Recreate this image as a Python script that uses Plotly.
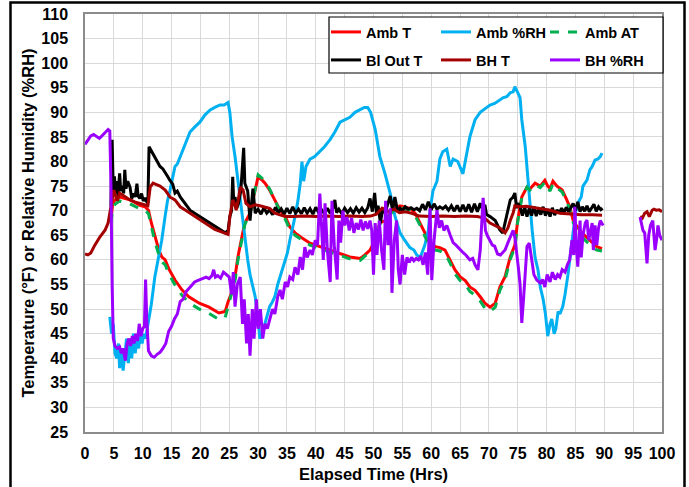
import plotly.graph_objects as go

# ---------------- data ----------------
amb_rh_x = [4.3, 4.6, 4.9, 5.2, 5.5, 5.8, 6.0, 6.3, 6.6, 6.9, 7.2, 7.5, 7.8, 8.1, 8.4, 8.7, 9.0, 9.3, 9.6, 9.9,
            10.2, 10.5, 10.8, 11.1, 11.5, 12.1, 12.7, 13.3, 13.9, 14.3, 14.7, 15.2, 15.6, 16.0, 16.5, 17.0, 17.5,
            18.2, 19.0, 19.9, 20.8, 21.7, 22.5, 23.4, 24.1, 24.8, 25.1, 25.5, 26.0, 26.5, 26.9, 27.3, 27.7, 28.2,
            28.6, 29.0, 29.5, 30.0, 30.3, 30.7, 31.2, 31.6, 32.0, 32.5, 32.9, 33.4, 33.8, 34.3, 34.7, 35.1, 35.5,
            36.0, 36.4, 36.9, 37.3, 37.6, 37.9, 38.3, 39.0, 39.8, 40.7, 41.5, 42.5, 43.3, 44.2, 45.0, 45.9, 46.8,
            47.7, 48.4, 49.0, 49.5, 50.3, 51.1, 52.0, 52.9, 53.7, 54.6, 55.4, 56.3, 57.0, 57.5, 58.1, 58.9, 59.5,
            59.8, 60.3, 61.0, 61.5, 62.0, 62.7, 63.3, 63.8, 64.6, 65.5, 66.7, 67.6, 68.5, 69.4, 70.2, 71.0, 71.9,
            72.5, 73.1, 73.7, 74.2, 74.5, 75.0, 75.4, 75.7, 76.3, 76.8, 77.1, 77.5, 78.0, 78.5, 78.9, 79.4, 79.8,
            80.2, 80.6, 80.9, 81.3, 81.6, 82.0, 82.3, 82.8, 83.2, 83.7, 84.4, 85.0, 85.4, 86.0, 86.3, 87.0, 87.5,
            87.9, 88.4, 88.9, 89.3, 89.6]
amb_rh_y = [48.4, 45, 47, 41, 40, 43, 38, 42, 37.5, 41, 44, 39, 43, 40, 45, 41, 44, 42, 46, 43,
            45, 44, 46, 48, 51, 56.5, 60, 64, 69, 72, 74, 77, 79, 79.5, 81, 82.5, 84,
            86, 87, 88, 89.5, 90.5, 91, 91.5, 91.5, 92, 90, 85, 81, 76, 72, 68, 64, 60,
            57, 55, 52.5, 48, 44, 45, 47, 49, 50.5, 51.5, 52.5, 55, 56.5, 58, 59.5, 61.5, 64,
            66.5, 68.8, 72, 75.5, 80, 76, 79, 80.5, 81, 82, 83, 84.5, 86, 88, 88.5, 89, 90,
            90.5, 91, 91, 90, 86.5, 81, 77.5, 73.5, 69, 65.5, 64, 62.5, 62, 61, 60.5, 63, 66,
            70, 74, 76, 80.5, 82, 82.5, 79, 80.5, 80, 77.5, 85, 88.5, 90, 90.8, 91.5, 91.8, 92.5,
            93, 93.2, 94, 94.2, 95.2, 94, 93, 88.5, 83, 76, 70.8, 66, 60.5, 58, 54.5, 52, 49,
            44.5, 47, 48, 45, 46, 49.5, 49, 50.5, 53, 57, 64, 69.5, 71.5, 72.8, 75, 76.2, 78.3,
            79, 80.3, 80.5, 81, 81.7, 81.2]

amb_x = [4.5, 4.8, 5.2, 5.6, 6.0, 6.5, 6.9, 7.4, 7.8, 8.5, 9.5, 10.4, 11.0, 11.5, 12.1, 12.8, 13.3, 13.9, 14.6,
         15.6, 16.8, 18.0, 19.8, 21.5, 23.2, 24.3, 24.8, 25.3, 26.0, 26.5, 27.2, 27.7, 28.6, 29.5, 30.0, 30.7,
         31.2, 32.0, 32.9, 33.8, 34.7, 35.5, 36.4, 37.3, 39.0, 40.7, 42.5, 44.2, 45.9, 47.7, 48.5, 49.4, 50.3,
         51.1, 52.0, 52.9, 53.7, 54.6, 56.3, 57.2, 58.1, 58.9, 59.8, 60.7, 61.5, 62.4, 63.3, 64.1, 65.0, 65.9,
         66.7, 67.6, 68.5, 69.3, 70.2, 71.1, 71.9, 72.8, 73.7, 74.5, 75.0, 75.7, 76.6, 77.1, 78.0, 78.9, 79.7,
         80.2, 80.6, 81.1, 81.8, 82.7, 83.5, 84.0, 84.6, 85.3, 86.1, 87.0, 87.9, 88.7, 89.6]
amb_t_y = [68.5, 71.5, 72.2, 72.5, 72.8, 72.6, 72.5, 72.3, 72.2, 71.8, 71.1, 70.8, 70.1, 67.5, 64.7, 62, 60.6, 60,
           58, 55.9, 53.9, 52.5, 51.2, 50.4, 49.2, 49.5, 51.5, 53, 56.6, 60.6, 64.7, 67.5, 69.5, 74.2, 76.9,
           76.2, 75.6, 74.2, 72.2, 70.1, 68.8, 66.7, 65.5, 64.7, 63.4, 62.7, 62, 61.4, 60.6, 60.3, 61, 62, 64,
           67.5, 68, 69.5, 70.5, 71, 70.5, 69.5, 67.5, 65.5, 63.4, 62.7, 62.5, 62, 60, 58, 56.6, 55.8, 54.5,
           53.8, 52.5, 51.2, 50.4, 51.2, 54.5, 56.6, 60.6, 63, 68.1, 72.8, 74.8, 74.4, 75.6, 75, 76.2, 75,
           74.5, 76, 75, 74.2, 72.2, 70.8, 68.1, 66.7, 65.5, 64.5, 63.4, 62.7, 62.3]
amb_at_y = [67.5, 70.5, 71.3, 71.6, 72, 71.8, 71.6, 71.5, 71.4, 71, 70.4, 70.1, 69.4, 66.8, 63.8, 61, 59.6, 59,
            57, 54.9, 52.8, 51.3, 50, 49.1, 47.9, 48.3, 50.5, 52.2, 55.8, 59.9, 64.2, 67.2, 69.4, 74.2, 77.3,
            76.6, 75.8, 74.4, 72.2, 69.8, 68.3, 66.2, 65, 64.3, 63, 62.3, 61.6, 61, 60.2, 59.9, 60.7, 61.7, 63.7,
            67.3, 67.8, 69.3, 70.2, 70.6, 70.1, 69, 67, 64.8, 62.8, 62, 61.8, 61.3, 59.3, 57.2, 55.8, 55, 53.6,
            52.8, 51.6, 50.2, 49.5, 50.4, 53.8, 56, 60.1, 62.6, 67.8, 72.6, 74.8, 74.2, 75.3, 74.7, 75.8, 74.6,
            74, 75.5, 74.6, 73.8, 71.8, 70.3, 67.6, 66, 64.7, 63.7, 62.6, 62, 61.8]

bi_out_x = [4.5, 4.7, 4.9, 5.1, 5.3, 5.5, 5.7, 6.0, 6.2, 6.5, 6.7, 6.9, 7.1, 7.4, 7.8, 8.1, 8.4, 8.7, 9.0, 9.2,
            9.5, 9.8, 10.1, 10.4, 10.7, 10.9, 11.1, 11.6, 12.1, 13.0, 13.5, 13.9, 14.3, 14.7, 15.2, 15.6, 16.0,
            16.5, 17.3, 18.2, 19.0, 19.9, 20.8, 21.7, 22.5, 23.4, 24.3, 24.8, 25.1, 25.4, 25.6, 25.8, 26.0, 26.3,
            26.6, 27.0, 27.3, 27.5, 27.7, 28.0, 28.2, 28.6, 29.1, 29.5,
            30.0, 30.5, 31.0, 31.5, 32.0, 32.5, 33.0, 33.5, 34.0, 34.5, 35.0, 35.5, 36.0, 36.5, 37.0, 37.5,
            38.0, 38.5, 39.0, 39.5, 40.0, 40.5, 41.0, 41.5, 42.0, 42.5, 43.0, 43.3, 43.6, 44.0, 44.5, 45.0,
            45.5, 46.0, 46.5, 47.0, 47.5, 48.0, 48.5, 49.0, 49.4, 49.8, 50.2, 50.5, 50.8, 51.2, 51.6, 52.0,
            52.4, 52.9, 53.3, 53.7, 54.2, 54.6, 55.0, 55.5, 56.0, 56.5, 57.0, 57.5, 58.0, 58.5, 59.0, 59.5,
            60.0, 60.5, 61.0, 61.5, 62.0, 62.5, 63.0, 63.5, 64.0, 64.5, 65.0, 65.5, 66.0, 66.5, 67.0, 67.5,
            68.0, 68.5, 69.0, 69.3, 69.6, 70.2, 71.1, 71.9, 72.4, 73.1, 73.7, 74.2, 74.5, 74.8, 75.0, 75.4,
            75.8, 76.2, 76.6, 77.0, 77.4, 77.8, 78.2, 78.6, 79.0, 79.4, 79.8, 80.2, 80.6, 81.0, 81.4, 81.8,
            82.2, 82.6, 83.0, 83.4, 83.8, 84.2, 84.6, 85.0, 85.4, 85.8, 86.2, 86.6, 87.0, 87.4, 87.8, 88.2,
            88.6, 89.0, 89.4, 89.7]
bi_out_y = [71, 84.4, 74, 77, 73.5, 76, 73, 77.6, 74, 75, 73.5, 78.3, 74.5, 76, 74.8, 72.5, 73.5, 72.8, 75.5, 73,
            72.5, 73.5, 72, 72.6, 71.8, 71.5, 83, 82, 81, 79, 78.5, 77.6, 77, 76.2, 75.4, 73.6, 74,
            72.8, 71.5, 70.1, 69.5, 68.8, 68.2, 67.5, 66.8, 66.1, 65.5, 66, 68.8, 70, 76.9, 71, 72.8, 70.5,
            71.5, 74, 80, 82.8, 75.6, 74.5, 74, 68, 74.5, 69.5,
            70.3, 69.3, 70.6, 69.5, 70.2, 69.2, 70.7, 69.6, 70.4, 69.3, 70.5, 69.4, 70.8, 69.5, 70.3, 69.4,
            70.6, 69.5, 70.4, 69.3, 70.7, 69.6, 70.2, 69.4, 70.5, 69.5, 70.6, 72.2, 69.6, 70.3, 69.4, 70.5,
            69.6, 70.4, 69.5, 70.6, 69.7, 70.5, 69.6, 70.6, 72.5, 69.8, 73.6, 69.5, 71, 67.5, 70.5, 69.5,
            71, 73, 70, 72.8, 69.8, 70.5, 70, 70.8, 70.3, 70.6, 70.2, 70.5, 70, 71.3, 70.2, 71.8,
            70.2, 71.4, 70.3, 70.8, 70.4, 70.9, 70.1, 71, 69.9, 71.1, 69.8, 71.2, 69.8, 71.3, 69.7, 71.4,
            69.8, 71.5, 69.9, 71.2, 69.2, 68.8, 68, 66.1, 65.5, 68.8, 72.2, 72.8, 73.6, 70.5, 71.5, 70.8,
            69, 70.8, 68.8, 70.5, 69, 70.9, 68.9, 70.4, 69.2, 70.8, 69, 70.3, 68.8, 70.6, 69.1, 70.2,
            69.5, 70.5, 69.6, 70.7, 69.8, 70.6, 71.5, 70, 71.8, 69.8, 70.8, 69.9, 71, 69.8, 70.5, 71.3,
            69.9, 70.8, 70.2, 70.5]

bh_t_x = [0, 0.5, 1.0, 1.7, 2.6, 3.5, 4.0, 4.3, 4.7, 5.0, 5.3, 5.6, 6.0, 6.5, 6.9, 7.8, 8.6, 9.5, 10.4, 10.9,
          11.3, 11.8, 12.4, 13.0, 13.9, 14.7, 15.6, 16.5, 17.3, 18.2, 19.0, 19.9, 20.8, 21.7, 22.5, 23.4, 24.3,
          24.8, 25.1, 25.4, 25.6, 25.9, 26.2, 26.6, 26.9, 27.4, 27.9, 28.6, 29.5, 30.3, 31.2, 32.0, 32.9, 33.8,
          34.7, 36, 38, 40, 42, 44, 46, 48, 49.5, 50.5, 51.5, 52.5, 53.5, 54.5, 55.5, 56.5, 58, 60, 62, 64, 66,
          68, 69.3, 70.2, 71.1, 71.9, 72.8, 73.3, 73.7, 74.2, 74.5, 75.4, 76.5, 77.1, 78.9, 80.6, 82.3, 84.0,
          86, 88, 89.6, None, 96.2, 96.6, 97.0, 97.4, 97.8, 98.3, 98.6, 99.0, 99.5, 100]
bh_t_y = [61.2, 61.0, 61.4, 63, 64.7, 66.1, 67.5, 69.5, 72.8, 74.2, 73, 72, 73.6, 73.2, 73, 72.2, 71.8, 71.5,
          71.1, 71, 74.8, 75.6, 75.3, 75, 74.2, 72.8, 72.2, 70.8, 70.2, 69.5, 68.8, 68.1, 67.4, 66.7, 66.2,
          65.8, 65.5, 65.2, 68.8, 70.5, 72.2, 71.5, 70.1, 72.5, 74.8, 74.2, 71.5, 70.8, 71.2, 71, 70.8, 70.5,
          69.5, 69.2, 68.8, 68.8, 68.9, 68.8, 68.9, 68.8, 68.9, 68.8, 68.9, 69.3, 70.5, 69.8, 70.3, 69.6,
          69.8, 69.5, 68.9, 68.8, 68.9, 68.8, 68.9, 68.8, 68.5, 67.5, 67.0, 66.5, 65.5, 66.5, 68, 69.5, 71,
          70.8, 70.9, 70.8, 70.5, 70.1, 69.5, 69.3, 69.2, 69.2, 69.1, None, 68.8, 68.5, 69.5, 69.8, 68.8,
          70.1, 70.3, 70.1, 70.2, 69.8]

bh_rh_x = [0, 0.5, 1.0, 1.5, 2.0, 2.5, 3.0, 3.5, 4.0, 4.3, 4.5, 4.7, 4.9, 5.2, 5.6, 6.0, 6.3, 6.6, 7.0, 7.3,
           7.6, 7.9, 8.2, 8.5, 8.8, 9.1, 9.4, 9.7, 10.0, 10.3, 10.5, 10.7, 11.0, 11.5, 12.0, 12.5, 13.0, 13.5,
           14.0, 14.5, 15.0, 15.5, 16.0, 16.5, 17.0, 17.5, 18.0, 18.5, 19.0, 19.5, 20.0, 20.5, 21.0, 21.5,
           22.0, 22.3, 22.6, 23.0, 23.5, 24.0, 24.5, 25.0, 25.4, 25.7, 26.0, 26.4, 26.9, 27.3, 27.6, 28.0,
           28.3, 28.6, 29.0, 29.3, 29.7, 30.0, 30.4, 30.8, 31.2, 31.6, 32.0, 32.5, 32.9, 33.4, 33.8, 34.2,
           34.7, 35.1, 35.5, 36.0, 36.4, 36.9, 37.3, 37.7, 38.1, 38.5, 39.0, 39.4, 39.9, 40.3, 40.7, 41.0,
           41.3, 41.6, 42.0, 42.5, 42.8, 43.2, 43.7, 44.0, 44.3, 44.7, 45.0, 45.4, 45.8, 46.2, 46.6, 47.0,
           47.4, 47.8, 48.2, 48.6, 49.0, 49.4, 49.7, 50.0, 50.3, 50.6, 51.0, 51.4, 51.8, 52.1, 52.5, 52.9,
           53.2, 53.6, 54.0, 54.3, 54.6, 55.0, 55.4, 55.8, 56.2, 56.6, 57.0, 57.4, 57.8, 58.2, 58.6, 59.0,
           59.4, 59.8, 60.1, 60.5, 61.0, 61.4, 61.8, 62.2, 62.7, 63.3, 63.8, 64.3, 65.0, 65.5, 66.0, 66.7,
           67.2, 67.6, 68.1, 68.5, 69.0, 69.4, 69.7, 70.2, 70.6, 71.0, 71.5, 72.0, 72.4, 72.8, 73.3, 73.7,
           74.2, 74.5, 74.8, 75.1, 75.4, 75.7, 76.0, 76.3, 76.6, 77.0, 77.4, 77.8, 78.3, 78.9, 79.3, 79.7,
           80.1, 80.6, 81.0, 81.5, 81.9, 82.3, 82.7, 83.2, 83.6, 84.0, 84.4, 84.7, 84.9, 85.1, 85.4, 85.8,
           86.0, 86.3, 86.7, 87.0, 87.3, 87.5, 87.9, 88.1, 88.4, 88.7, 89.0, 89.3, 89.6, 89.8, None,
           96.2, 96.5, 96.7, 97.0, 97.4, 97.7, 98.0, 98.4, 98.6, 98.8, 99.1, 99.3, 99.6, 100]
bh_rh_y = [83.5, 84.5, 85.2, 85.5, 85.0, 84.7, 85.3, 86.0, 86.5, 86.2, 75, 55, 44, 42.5, 42, 42.3, 41, 42, 39.5, 43,
           44, 42.5, 44.5, 43, 45, 43.5, 47, 44.5, 46, 46.5, 56, 48, 41.5, 40.5, 40.2, 40.8, 41.2, 42,
           43, 45.5, 46.5, 48, 49, 51.5, 52, 53.5, 54.2, 55, 55.5, 55.8, 56, 56.3, 56.5, 56.2,
           56.8, 58, 56.5, 56.8, 56.3, 57.5, 57, 56.5, 53, 57.5, 50.5, 55, 56.5, 47, 52, 43,
           49, 40.5, 50, 44, 52, 46, 50, 44, 47, 46, 47.8, 50, 49, 52.5, 53.9, 52,
           55.5, 54.5, 56.5, 56, 58.5, 57, 60.6, 58, 62.6, 60.5, 62, 61, 64, 63, 73.5, 66,
           60, 71.5, 62, 55.5, 72, 63, 56, 68, 63.5, 70, 67, 68.7, 66, 68.5, 65.5, 67.5,
           66.2, 68.2, 66, 67.8, 66.3, 68, 66, 57, 67.5, 61, 68, 62, 58, 72, 63, 70.5,
           53.3, 64, 68, 58, 55, 61, 57, 60.5, 59.5, 60.5, 59.8, 60.3, 60, 60.8, 59, 61.5,
           57, 70.5, 55.9, 64, 70.1, 66.5, 68, 66, 67, 65, 63.5, 63, 62, 61.5, 61, 60,
           60.3, 59, 58, 62, 72.6, 66, 65, 64, 63, 62.8, 61.2, 61, 61.5, 62, 63.5, 64.5,
           66, 64.6, 62, 58.5, 55, 47.2, 52, 58, 62.7, 63.4, 60, 57, 55.9, 55.3, 56, 54.5,
           57, 55.5, 57.5, 56, 57, 56.5, 58, 57.5, 59, 60, 64, 61, 70.8, 64, 58.6, 68,
           60.5, 65, 67.5, 68.1, 64, 65, 67.5, 62, 67, 63, 66.5, 68, 67.5, 67, None,
           68.7, 67, 66, 65.5, 59.3, 65, 67, 68, 65, 62, 64.5, 67, 65, 64]

series_names = ["Amb T", "Amb %RH", "Amb AT", "Bl Out T", "BH T", "BH %RH"]
series_colors = ["#FF0000", "#00B0F0", "#00B050", "#000000", "#A50000", "#9B00FF"]

x_ticks = list(range(0, 101, 5))
y_ticks = list(range(25, 111, 5))

# ---------------- figure ----------------
W, H = 689, 487
L, R, T, B = 85, 662, 14, 432


def px_x(p):
    return (p - L) / (R - L)


def px_y(p):
    return (B - p) / (B - T)


fig = go.Figure()
xs = [amb_x, amb_rh_x, amb_x, bi_out_x, bh_t_x, bh_rh_x]
ys = [amb_t_y, amb_rh_y, amb_at_y, bi_out_y, bh_t_y, bh_rh_y]
dashes = ["solid", "solid", "dash", "solid", "solid", "solid"]
legend_ids = ["legend", "legend2", "legend3", "legend4", "legend5", "legend6"]
for i in range(6):
    fig.add_trace(go.Scatter(
        x=xs[i], y=ys[i], mode="lines", name=series_names[i],
        line=dict(color=series_colors[i], width=3, dash=dashes[i]),
        connectgaps=False, legend=legend_ids[i]))

font_fam = "Liberation Sans, Arial, sans-serif"
leg_font = dict(family=font_fam, size=14.5, color="black", weight="bold")
col_px = [326, 436, 545]
row_px = [32, 60]
layout_legends = {}
for i, lid in enumerate(legend_ids):
    c = i % 3
    r = i // 3
    layout_legends[lid] = dict(
        x=px_x(col_px[c]), y=px_y(row_px[r]), xanchor="left", yanchor="middle",
        orientation="h", bgcolor="rgba(0,0,0,0)", borderwidth=0, font=leg_font,
        itemwidth=30, tracegroupgap=0)

axis_common = dict(
    showgrid=True, gridcolor="#D9D9D9", gridwidth=1,
    showline=True, linecolor="#8C8C8C", linewidth=1.5, mirror=True,
    zeroline=False, ticks="",
    tickfont=dict(family=font_fam, size=16, color="black", weight="bold"),
)

fig.update_layout(
    width=W, height=H,
    margin=dict(l=L, r=W - R, t=T, b=H - B, autoexpand=False),
    paper_bgcolor="white", plot_bgcolor="white",
    showlegend=True,
    xaxis=dict(range=[0, 100], tickvals=x_ticks, ticktext=[str(v) for v in x_ticks],
               ticklabelstandoff=6,
               title=dict(text="Elapsed Time (Hrs)", standoff=7,
                          font=dict(family=font_fam, size=16.5, color="black", weight="bold")),
               **axis_common),
    yaxis=dict(range=[25, 110], tickvals=y_ticks, ticktext=[str(v) for v in y_ticks],
               ticklabelstandoff=12,
               title=dict(text="Temperature (°F) or Relative Humidity (%RH)", standoff=3,
                          font=dict(family=font_fam, size=16.5, color="black", weight="bold")),
               **axis_common),
    shapes=[
        dict(type="rect", xref="paper", yref="paper",
             x0=px_x(329), x1=px_x(663), y0=px_y(73), y1=px_y(17),
             fillcolor="white", line=dict(color="black", width=1.2), layer="above"),
        dict(type="rect", xref="paper", yref="paper",
             x0=px_x(10.5), x1=px_x(684.5), y0=px_y(498), y1=px_y(2.5),
             fillcolor="rgba(0,0,0,0)", line=dict(color="black", width=2.5), layer="above"),
    ],
    **layout_legends,
)

fig.write_html("out.html", config={"displayModeBar": False},
               post_script="document.body.style.margin='0';document.body.style.overflow='hidden';")
